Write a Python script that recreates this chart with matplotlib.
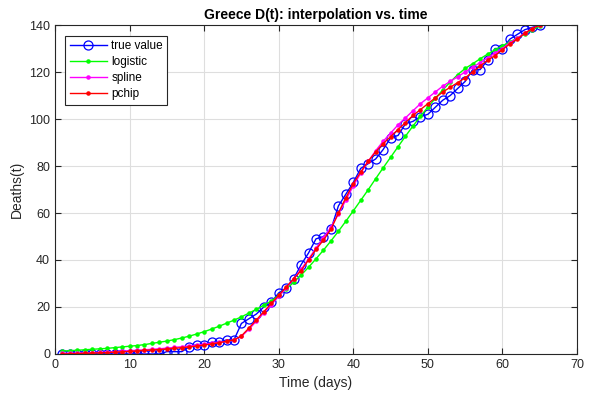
import numpy as np
import matplotlib
matplotlib.use("Agg")
from matplotlib import pyplot as plt

plt.rcParams['font.family'] = ['Liberation Sans', 'DejaVu Sans']

days = np.arange(1, 66)

# cumulative deaths
true_value = [0, 0, 0, 0, 0, 0, 0, 0, 0, 0, 0, 0, 0, 0,
              1, 1, 1, 3, 4, 4, 5, 5, 6, 6, 13, 15, 17, 20, 22, 26,
              28, 32, 38, 43, 49, 50, 53, 63, 68, 73, 79, 81, 83, 87, 92,
              93, 98, 99, 101, 102, 105, 108, 110, 113, 116, 121, 121, 125, 130, 130,
              134, 136, 138, 139, 140]

logistic = [1.3, 1.4, 1.6, 1.8, 2.0, 2.2, 2.4, 2.7, 3.0, 3.3,
            3.6, 4.0, 4.5, 5.0, 5.5, 6.1, 6.8, 7.6, 8.5, 9.5,
            10.6, 11.8, 13.1, 14.4, 15.8, 17.4, 19.0, 20.8, 22.5, 25.0,
            27.6, 30.5, 33.6, 36.9, 40.5, 44.2, 48.1, 52.2, 56.5, 60.9,
            65.4, 69.9, 74.6, 79.2, 83.7, 88.2, 92.7, 97.0, 101.1, 105.1,
            108.8, 112.4, 115.7, 118.9, 121.5, 123.5, 125.6, 127.6, 129.4, 131.1,
            132.8, 134.5, 136.2, 137.9, 139.5]

spline = [0.3, 0.3, 0.4, 0.5, 0.6, 0.7, 0.8, 1.0, 1.2, 1.4,
          1.6, 1.8, 2.0, 2.2, 2.5, 2.8, 3.1, 3.4, 3.8, 4.2,
          4.6, 5.0, 5.4, 6.0, 7.5, 10.5, 14.0, 17.5, 21.0, 24.5,
          28.0, 32.0, 36.0, 40.5, 45.0, 49.5, 54.0, 59.5, 65.5, 71.5,
          77.0, 82.0, 86.5, 90.5, 94.0, 97.5, 100.5, 103.5, 106.5, 109.0,
          111.5, 114.0, 116.0, 118.0, 120.0, 122.0, 124.0, 126.0, 128.0, 130.0,
          132.5, 134.5, 136.5, 138.5, 140.0]

pchip = [0.0, 0.1, 0.2, 0.3, 0.4, 0.5, 0.6, 0.8, 0.9, 1.1,
         1.3, 1.5, 1.7, 1.9, 2.1, 2.4, 2.7, 3.0, 3.4, 3.8,
         4.3, 4.8, 5.4, 6.0, 7.7, 11.0, 14.5, 18.0, 21.5, 25.0,
         28.5, 32.0, 35.5, 40.0, 44.5, 48.5, 53.0, 60.0, 66.5, 72.5,
         77.5, 82.0, 86.0, 89.5, 92.5, 95.5, 98.5, 101.5, 104.0, 106.5,
         109.0, 111.5, 113.5, 115.5, 117.5, 120.0, 122.5, 125.0, 127.0, 129.5,
         132.0, 134.0, 136.5, 138.5, 140.0]

fig = plt.figure(figsize=(5.9, 3.99), dpi=100)
ax = fig.add_axes([0.0932, 0.1128, 0.8848, 0.8245])

ax.plot(days, true_value, '-o', color=(0, 0, 1), lw=1, ms=6.5,
        mfc='none', mew=0.9, label='true value')
ax.plot(days, logistic, '.-', color=(0, 1, 0), lw=1, ms=4.5, label='logistic')
ax.plot(days, spline, '.-', color=(1, 0, 1), lw=1, ms=4.5, label='spline')
ax.plot(days, pchip, '.-', color=(1, 0, 0), lw=1, ms=4.5, label='pchip')

ax.set_xlim(0, 70)
ax.set_ylim(0, 140)
ax.set_xticks(range(0, 71, 10))
ax.set_yticks(range(0, 141, 20))
ax.grid(True, color='#dedede', lw=0.8)
ax.set_axisbelow(True)
ax.tick_params(direction='in', labelsize=9, colors='#262626', length=4,
               top=True, right=True, labeltop=False, labelright=False)
for s in ax.spines.values():
    s.set_color('#262626')
    s.set_linewidth(0.8)

ax.set_xlabel('Time (days)', fontsize=10, color='#262626')
ax.set_ylabel('Deaths(t)', fontsize=10, color='#262626')
ax.set_title('Greece D(t): interpolation vs. time', fontsize=10,
             fontweight='bold', color='#000000', pad=4)

leg = ax.legend(loc='upper left', bbox_to_anchor=(0.02, 0.967), fontsize=8.5,
                frameon=True, fancybox=False, edgecolor='#262626',
                framealpha=1, handlelength=3.2, borderpad=0.35,
                labelspacing=0.35, handletextpad=0.35, borderaxespad=0)
leg.get_frame().set_linewidth(0.8)

fig.savefig('out.png', dpi=100, facecolor='white')
